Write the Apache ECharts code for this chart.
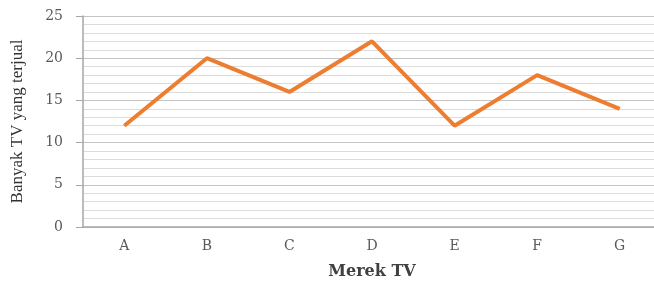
<!DOCTYPE html>
<html>
<head>
<meta charset="utf-8">
<script src="https://cdn.jsdelivr.net/npm/echarts@6/dist/echarts.min.js"></script>
<style>
  html, body { margin: 0; padding: 0; background: #fff; }
  #chart { width: 654px; height: 282px; }
</style>
</head>
<body>
<div id="chart"></div>
<script>
var categories = ["A", "B", "C", "D", "E", "F", "G"];
var sold = [12, 20, 16, 22, 12, 18, 14];

var chart = echarts.init(document.getElementById("chart"));
chart.setOption({
  animation: false,
  textStyle: { fontFamily: "DejaVu Serif" },
  grid: { left: 83, top: 16, width: 578, height: 211, outerBoundsMode: "none" },
  xAxis: {
    type: "category",
    data: categories,
    name: "Merek TV",
    nameLocation: "middle",
    nameGap: 37,
    nameTextStyle: { fontFamily: "DejaVu Serif", fontWeight: "bold", fontSize: 16, color: "#404040" },
    axisLine: { lineStyle: { color: "#a6a6a6", width: 1.5 } },
    axisTick: { show: false },
    axisLabel: { color: "#595959", fontSize: 14, margin: 12 }
  },
  yAxis: {
    type: "value",
    min: 0,
    max: 25,
    interval: 5,
    name: "Banyak TV yang terjual",
    nameLocation: "middle",
    nameGap: 57,
    nameTextStyle: { fontFamily: "Liberation Serif", fontSize: 17, color: "#333333" },
    axisLine: { show: true, lineStyle: { color: "#a6a6a6", width: 1.5 } },
    axisTick: { show: true, length: 7, lineStyle: { color: "#a6a6a6" } },
    axisLabel: { color: "#595959", fontSize: 14, margin: 20 },
    splitLine: { lineStyle: { color: "#c4c4c4", width: 1.2 } },
    minorTick: { show: false, splitNumber: 5 },
    minorSplitLine: { show: true, lineStyle: { color: "#dcdcdc", width: 1 } }
  },
  series: [{
    type: "line",
    data: sold,
    symbol: "none",
    lineStyle: { color: "#ed7d31", width: 4 },
    itemStyle: { color: "#ed7d31" }
  }]
});
</script>
</body>
</html>
